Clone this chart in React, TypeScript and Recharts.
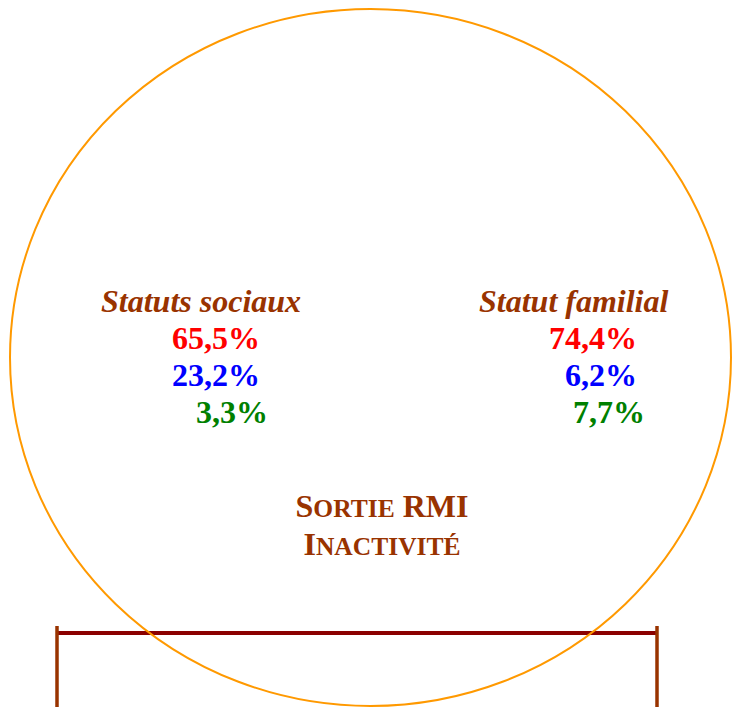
import { ComposedChart, Scatter, XAxis, YAxis, ReferenceLine } from "recharts";

const groups = ["Statuts sociaux", "Statut familial"];
const redValues = [65.5, 74.4];
const blueValues = [23.2, 6.2];
const greenValues = [3.3, 7.7];
const titleLines = ["Sortie RMI", "Inactivité"];

const W = 732;
const H = 707;
const BROWN = "#993300";
const ORANGE = "#ff9900";
const valueColors = ["#ff0000", "#0000ff", "#008000"];
const FONT = "'Liberation Serif', 'Times New Roman', serif";

// layout in page pixels
const headerPos = [
  { x: 101, y: 312 },
  { x: 479, y: 312 },
];
const valuePos = [
  [
    { x: 172, y: 349 },
    { x: 172, y: 386 },
    { x: 196, y: 423 },
  ],
  [
    { x: 549, y: 349 },
    { x: 565, y: 386 },
    { x: 573, y: 423 },
  ],
];
const titlePos = [
  { x: 382, y: 517 },
  { x: 382, y: 555 },
];
const ellipse = { x: 370.5, y: 357.5, rx: 360.5, ry: 348.5 };

const fmt = (v: number) => v.toFixed(1).replace(".", ",") + "%";

const textPoints: any[] = [];
groups.forEach((g, i) => {
  textPoints.push({ ...headerPos[i], text: g, color: BROWN, kind: "header" });
  [redValues[i], blueValues[i], greenValues[i]].forEach((v, k) => {
    textPoints.push({ ...valuePos[i][k], text: fmt(v), color: valueColors[k], kind: "value" });
  });
});
titleLines.forEach((t, i) => {
  textPoints.push({ ...titlePos[i], text: t, color: BROWN, kind: "title" });
});

const smallCaps = (s: string) =>
  s.split(" ").flatMap((word, wi) => {
    const parts = [
      <tspan key={wi + "a"} fontSize={32}>
        {(wi > 0 ? " " : "") + word[0].toUpperCase()}
      </tspan>,
    ];
    const rest = word.slice(1);
    const allCaps = rest === rest.toUpperCase();
    if (rest)
      parts.push(
        <tspan key={wi + "b"} fontSize={allCaps ? 32 : 25.5}>
          {rest.toUpperCase()}
        </tspan>
      );
    return parts;
  });

const TextShape = (props: any) => {
  const { cx, cy, payload } = props;
  if (payload.kind === "title") {
    return (
      <text x={cx} y={cy} textAnchor="middle" fill={payload.color} fontFamily={FONT} fontWeight="bold">
        {smallCaps(payload.text)}
      </text>
    );
  }
  return (
    <text
      x={cx}
      y={cy}
      fill={payload.color}
      fontFamily={FONT}
      fontWeight="bold"
      fontStyle={payload.kind === "header" ? "italic" : "normal"}
      fontSize={32}
    >
      {payload.text}
    </text>
  );
};

const EllipseShape = (props: any) => (
  <ellipse cx={props.cx} cy={props.cy} rx={ellipse.rx} ry={ellipse.ry} fill="none" stroke={ORANGE} strokeWidth={2} />
);

export default function App() {
  return (
    <div style={{ position: "absolute", left: 0, top: 0 }}>
      <ComposedChart width={W} height={H} margin={{ top: 0, right: 0, bottom: 0, left: 0 }}>
        <XAxis type="number" dataKey="x" domain={[0, W]} hide />
        <YAxis type="number" dataKey="y" domain={[0, H]} reversed hide />
        <ReferenceLine segment={[{ x: 57, y: 633 }, { x: 657, y: 633 }]} stroke="#8b0000" strokeWidth={4} />
        <ReferenceLine segment={[{ x: 57, y: 626 }, { x: 57, y: H }]} stroke={BROWN} strokeWidth={3.5} />
        <ReferenceLine segment={[{ x: 657, y: 626 }, { x: 657, y: H }]} stroke={BROWN} strokeWidth={3.5} />
        <Scatter data={[ellipse]} shape={EllipseShape} isAnimationActive={false} />
        <Scatter data={textPoints} shape={TextShape} isAnimationActive={false} />
      </ComposedChart>
    </div>
  );
}
